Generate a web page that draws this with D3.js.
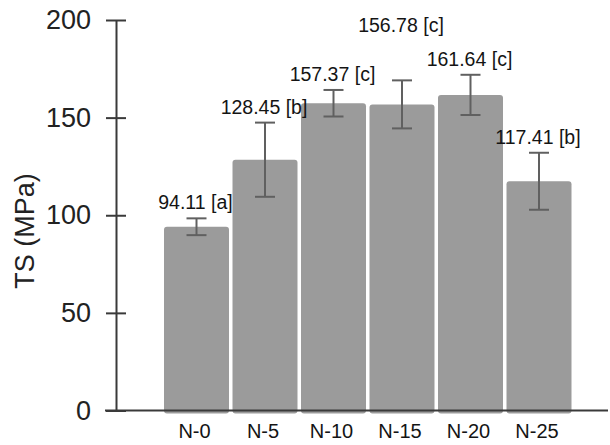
<!DOCTYPE html>
<html>
<head>
<meta charset="utf-8">
<script src="https://cdn.jsdelivr.net/npm/d3@7/dist/d3.min.js"></script>
<style>
  html, body { margin: 0; padding: 0; background: #fff; }
  svg { display: block; }
  text { font-family: "Liberation Sans", Arial, sans-serif; }
</style>
</head>
<body>
<svg id="chart" width="610" height="445"></svg>
<script>
// Tensile strength per sample, with standard deviation and significance group
const samples = ["N-0", "N-5", "N-10", "N-15", "N-20", "N-25"];
const tsMean = [94.11, 128.45, 157.37, 156.78, 161.64, 117.41];
const tsError = [4.3, 19.0, 6.8, 12.3, 10.3, 14.6];
const groups = ["a", "b", "c", "c", "c", "b"];
const yTicks = [0, 50, 100, 150, 200];

const svg = d3.select("#chart");

const x = d3.scaleBand()
  .domain(samples)
  .range([162.25, 573.25])
  .paddingInner(0.051)
  .paddingOuter(0.0255);

const y = d3.scaleLinear().domain([0, 200]).range([410.5, 20]);

const axisX0 = 116;

// bars
svg.append("g").selectAll("rect")
  .data(samples)
  .join("rect")
  .attr("x", d => x(d))
  .attr("y", (d, i) => y(tsMean[i]))
  .attr("width", x.bandwidth())
  .attr("height", (d, i) => y(0) - y(tsMean[i]) + 3)
  .attr("rx", 3)
  .attr("fill", "#9b9b9b");

// error bars
const capHalf = 10;
const eb = svg.append("g").attr("stroke", "#606060").attr("stroke-width", 2);
samples.forEach((s, i) => {
  const cx = x(s) + x.bandwidth() / 2;
  const top = y(tsMean[i] + tsError[i]);
  const bot = y(tsMean[i] - tsError[i]);
  eb.append("line").attr("x1", cx).attr("x2", cx).attr("y1", top).attr("y2", bot);
  eb.append("line").attr("x1", cx - capHalf).attr("x2", cx + capHalf).attr("y1", top).attr("y2", top);
  eb.append("line").attr("x1", cx - capHalf).attr("x2", cx + capHalf).attr("y1", bot).attr("y2", bot);
});

// value labels above each error bar; the N-15 label sits higher to clear its neighbours
const raised = { "N-15": 39 };
svg.append("g").selectAll("text")
  .data(samples)
  .join("text")
  .attr("x", d => x(d) + x.bandwidth() / 2 - 1)
  .attr("y", (d, i) => y(tsMean[i] + tsError[i]) - 9 - (raised[d] || 0))
  .attr("text-anchor", "middle")
  .attr("font-size", 19.5)
  .attr("fill", "#141414")
  .text((d, i) => `${tsMean[i].toFixed(2)} [${groups[i]}]`);

// x axis baseline
svg.append("line")
  .attr("x1", 105).attr("x2", 608)
  .attr("y1", y(0)).attr("y2", y(0))
  .attr("stroke", "#3a3a3a").attr("stroke-width", 2);

// x category labels
svg.append("g").selectAll("text")
  .data(samples)
  .join("text")
  .attr("x", d => x(d) + x.bandwidth() / 2 - 2)
  .attr("y", 437.5)
  .attr("text-anchor", "middle")
  .attr("font-size", 20)
  .attr("fill", "#141414")
  .text(d => d);

// y axis
const yAxis = svg.append("g")
  .attr("transform", `translate(${axisX0},0)`)
  .call(d3.axisLeft(y).tickValues(yTicks).tickSizeOuter(0).tickSizeInner(10));
yAxis.select(".domain").attr("stroke", "#3a3a3a").attr("stroke-width", 2);
yAxis.selectAll(".tick line")
  .attr("x1", -10).attr("x2", 10)
  .attr("stroke", "#3a3a3a").attr("stroke-width", 2);
yAxis.selectAll(".tick text")
  .attr("x", -25)
  .attr("font-size", 27)
  .attr("font-family", "Liberation Sans, Arial, sans-serif")
  .attr("fill", "#222");

// y axis title
svg.append("text")
  .attr("transform", "translate(25,231) rotate(-90)")
  .attr("text-anchor", "middle")
  .attr("dominant-baseline", "central")
  .attr("font-size", 27)
  .attr("fill", "#222")
  .text("TS (MPa)");
</script>
</body>
</html>
